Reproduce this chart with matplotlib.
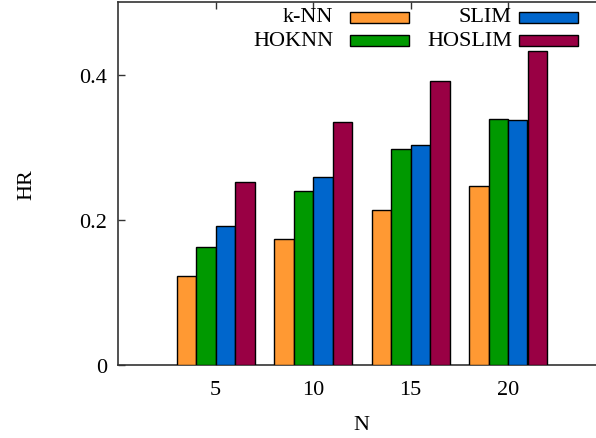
import matplotlib
matplotlib.use("Agg")
import matplotlib.pyplot as plt
from matplotlib.patches import Rectangle
import numpy as np

plt.rcParams['font.family'] = ['Liberation Serif', 'DejaVu Serif']

categories = ["5", "10", "15", "20"]
series_names = ["k-NN", "HOKNN", "SLIM", "HOSLIM"]
knn = [0.123, 0.174, 0.213, 0.246]
hoknn = [0.162, 0.240, 0.297, 0.339]
slim = [0.191, 0.259, 0.303, 0.337]
hoslim = [0.252, 0.335, 0.391, 0.433]
colors = ["#FF9933", "#009900", "#0066CC", "#990044"]
yticks = [0, 0.2, 0.4]
yticklabels = ["0", "0.2", "0.4"]

W, H = 596, 439
FS = 16
fig = plt.figure(figsize=(W / 100, H / 100), dpi=100)
ax = fig.add_axes([118 / W, 73 / H, 487.5 / W, 363 / H])

x = np.arange(1, len(categories) + 1)
bw = 0.2
all_series = [knn, hoknn, slim, hoslim]
for i, (vals, c) in enumerate(zip(all_series, colors)):
    ax.bar(x + (i - 1.5) * bw, vals, width=bw, color=c, edgecolor="black",
           linewidth=1.0, zorder=3)

ax.set_xlim(0, 5)
ax.set_ylim(0, 0.5)
ax.set_xticks(x)
ax.set_xticklabels(categories)
ax.set_yticks(yticks)
ax.set_yticklabels(yticklabels)
ax.tick_params(axis="both", direction="in", length=5, width=1, labelsize=FS,
               top=True, right=False, colors="#333333", labelcolor="black")
ax.tick_params(axis="x", pad=11)
ax.tick_params(axis="y", pad=8)
for s in ["top", "left", "bottom"]:
    ax.spines[s].set_linewidth(1.2)
    ax.spines[s].set_color("#333333")
ax.spines["right"].set_visible(False)

ax.set_xlabel("N", fontsize=FS, labelpad=11)
ax.set_ylabel("HR", fontsize=FS, labelpad=31)

# gnuplot-style legend: right-justified labels followed by sample boxes
def px(xp, yp):
    return (xp / W, 1 - yp / H)

legend_layout = [(333, 350, 18), (333, 350, 41), (512, 519, 18), (512, 519, 41)]
for name, c, (tx, bx, yc) in zip(series_names, colors, legend_layout):
    fig.text(*px(tx, yc), name, ha="right", va="center", fontsize=FS)
    r = Rectangle(px(bx, yc + 5.5), 59 / W, 11 / H, transform=fig.transFigure,
                  facecolor=c, edgecolor="black", linewidth=1.0)
    fig.patches.append(r)

fig.savefig("out.png", dpi=100)
